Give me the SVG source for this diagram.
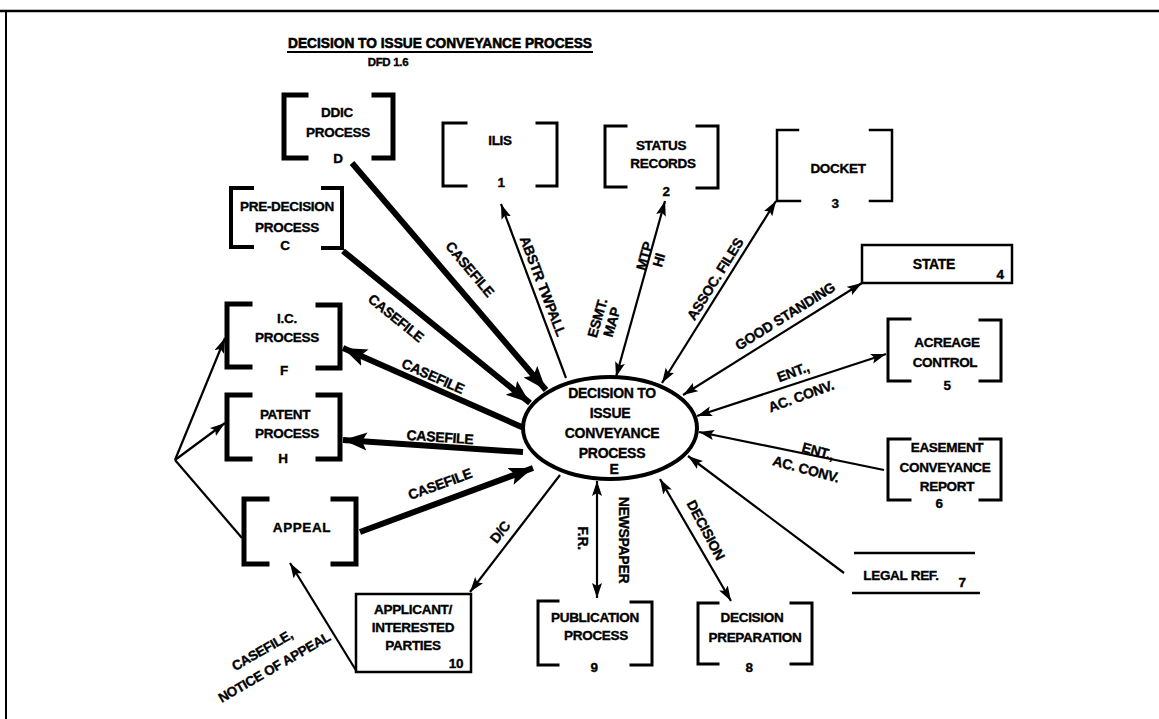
<svg xmlns="http://www.w3.org/2000/svg" width="1159" height="719" viewBox="0 0 1159 719">
  <style>
    .t{font-family:"Liberation Sans",Arial,sans-serif;font-weight:bold;font-size:13.5px;text-anchor:middle;fill:#000;stroke:#000;stroke-width:0.35;letter-spacing:-0.3px}
    .f{font-size:14px}
    .br{fill:none;stroke:#000;stroke-linecap:square}
    .thick{fill:none;stroke:#000;stroke-width:6}
    .thin{fill:none;stroke:#000;stroke-width:2.2}
    .box{fill:#fff;stroke:#000;stroke-width:2.5}
  </style>
  <defs>
    <marker id="big" markerUnits="userSpaceOnUse" markerWidth="26" markerHeight="20" refX="24" refY="9" orient="auto-start-reverse">
      <path d="M0,0 L24,9 L0,18 L5,9 z" fill="#000"/>
    </marker>
    <marker id="sm" markerUnits="userSpaceOnUse" markerWidth="16" markerHeight="12" refX="15" refY="5" orient="auto-start-reverse">
      <path d="M0,0 L15,5 L0,10 L3,5 z" fill="#000"/>
    </marker>
  </defs>
  <rect width="1159" height="719" fill="#fff"/>

  <!-- page frame -->
  <g id="frame">
    <line x1="0" y1="11" x2="1159" y2="11" stroke="#000" stroke-width="2.5"/>
    <line x1="6" y1="11" x2="6" y2="719" stroke="#000" stroke-width="2"/>
  </g>

  <!-- heading -->
  <g id="title">
    <text x="440" y="48" class="t" style="font-size:15px;letter-spacing:0;stroke-width:0.6" textLength="304" lengthAdjust="spacingAndGlyphs">DECISION TO ISSUE CONVEYANCE  PROCESS</text>
    <line x1="287" y1="52" x2="593" y2="52" stroke="#000" stroke-width="2"/>
    <text x="388" y="66" class="t" style="font-size:11.5px">DFD 1.6</text>
  </g>

  <!-- flows -->
  <g id="connectors">
    <line class="thick" x1="352" y1="163" x2="546" y2="390" marker-end="url(#big)"/>
    <line class="thick" x1="343" y1="251" x2="530" y2="403" marker-end="url(#big)"/>
    <line class="thick" x1="524" y1="428" x2="343" y2="348" marker-end="url(#big)"/>
    <line class="thick" x1="523" y1="452" x2="343" y2="440" marker-end="url(#big)"/>
    <line class="thick" x1="360" y1="532" x2="533" y2="468" marker-end="url(#big)"/>
    <line class="thin" x1="566" y1="378" x2="501" y2="204" marker-end="url(#sm)"/>
    <line class="thin" x1="616" y1="377" x2="665" y2="201" marker-start="url(#sm)" marker-end="url(#sm)"/>
    <line class="thin" x1="662" y1="383" x2="776" y2="201" marker-start="url(#sm)" marker-end="url(#sm)"/>
    <line class="thin" x1="683" y1="395" x2="862" y2="283" marker-start="url(#sm)" marker-end="url(#sm)"/>
    <line class="thin" x1="697" y1="416" x2="886" y2="354" marker-start="url(#sm)" marker-end="url(#sm)"/>
    <line class="thin" x1="884" y1="470" x2="699" y2="432" marker-end="url(#sm)"/>
    <line class="thin" x1="844" y1="573" x2="688" y2="456" marker-end="url(#sm)"/>
    <line class="thin" x1="660" y1="479" x2="731" y2="601" marker-start="url(#sm)" marker-end="url(#sm)"/>
    <line class="thin" x1="597" y1="481" x2="597" y2="598" marker-start="url(#sm)" marker-end="url(#sm)"/>
    <line class="thin" x1="560" y1="475" x2="470" y2="592" marker-end="url(#sm)"/>
    <line class="thin" x1="357" y1="672" x2="290" y2="563" marker-end="url(#sm)"/>
    <polyline class="thin" points="242,538 175,460"/>
    <line class="thin" x1="175" y1="460" x2="225" y2="338" marker-end="url(#sm)"/>
    <line class="thin" x1="175" y1="460" x2="225" y2="423" marker-end="url(#sm)"/>

    <!-- flow labels -->
    <text class="t f" y="5" transform="translate(470,269) rotate(50)">CASEFILE</text>
    <text class="t f" y="5" transform="translate(396,318) rotate(39)">CASEFILE</text>
    <text class="t f" y="5" transform="translate(433,376) rotate(24)">CASEFILE</text>
    <text class="t f" y="5" transform="translate(440,437) rotate(4)">CASEFILE</text>
    <text class="t f" y="5" transform="translate(440,484) rotate(-20)">CASEFILE</text>
    <text class="t f" y="5" transform="translate(543,286) rotate(69)">ABSTR TWPALL</text>
    <g transform="translate(651,258) rotate(-74)">
      <text class="t f" x="0" y="-2">MTP</text>
      <text class="t f" x="0" y="13">HI</text>
    </g>
    <g transform="translate(604,320) rotate(-74)">
      <text class="t f" x="0" y="-2">ESMT.</text>
      <text class="t f" x="0" y="13">MAP</text>
    </g>
    <text class="t f" y="5" transform="translate(715,279) rotate(-58)">ASSOC. FILES</text>
    <text class="t f" y="5" transform="translate(785,316) rotate(-32)">GOOD STANDING</text>
    <text class="t f" y="5" transform="translate(793,372) rotate(-20)">ENT.,</text>
    <text class="t f" y="5" transform="translate(801,396) rotate(-20)">AC. CONV.</text>
    <text class="t f" y="5" transform="translate(818,451) rotate(15)">ENT.,</text>
    <text class="t f" y="5" transform="translate(806,469) rotate(15)">AC. CONV.</text>
    <text class="t f" y="5" transform="translate(706,530) rotate(62)">DECISION</text>
    <text class="t f" y="5" transform="translate(583,538) rotate(90)">F.R.</text>
    <text class="t f" y="5" transform="translate(624,540) rotate(90)">NEWSPAPER</text>
    <text class="t f" y="5" transform="translate(500,532) rotate(-52)">D/C</text>
    <text class="t" y="5" transform="translate(262,650) rotate(-30)">CASEFILE,</text>
    <text class="t" y="5" transform="translate(274,667) rotate(-30)">NOTICE OF APPEAL</text>
  </g>

  <!-- central process -->
  <g id="node-E">
    <ellipse cx="610" cy="428" rx="87" ry="51" fill="#fff" stroke="#000" stroke-width="4"/>
    <text class="t f" x="612" y="398">DECISION TO</text>
    <text class="t f" x="610" y="418">ISSUE</text>
    <text class="t f" x="612" y="438">CONVEYANCE</text>
    <text class="t f" x="612" y="458">PROCESS</text>
    <text class="t f" x="614" y="474">E</text>
  </g>

  <g id="node-D">
    <path class="br" stroke-width="5" d="M306,95 H284 V158 H306 M374,95 H393 V158 H374"/>
    <text class="t" x="337" y="117">DDIC</text>
    <text class="t" x="338" y="137">PROCESS</text>
    <text class="t" x="338" y="163">D</text>
  </g>

  <g id="node-C">
    <path class="br" stroke-width="4" d="M252,188 H231 V247 H252 M323,188 H342 V248 H323"/>
    <text class="t" x="287" y="211">PRE-DECISION</text>
    <text class="t" x="287" y="232">PROCESS</text>
    <text class="t" x="285" y="250">C</text>
  </g>

  <g id="node-F">
    <path class="br" stroke-width="5" d="M250,304 H227 V367 H250 M318,305 H340 V368 H318"/>
    <text class="t" x="287" y="323">I.C.</text>
    <text class="t" x="287" y="342">PROCESS</text>
    <text class="t" x="284" y="375">F</text>
  </g>

  <g id="node-H">
    <path class="br" stroke-width="5" d="M250,395 H227 V459 H250 M318,395 H340 V459 H318"/>
    <text class="t" x="285" y="419">PATENT</text>
    <text class="t" x="287" y="438">PROCESS</text>
    <text class="t" x="283" y="463">H</text>
  </g>

  <g id="node-appeal">
    <path class="br" stroke-width="5" d="M267,499 H244 V564 H267 M333,499 H356 V564 H333"/>
    <text class="t" x="302" y="532" style="letter-spacing:0.6px">APPEAL</text>
  </g>

  <g id="node-1">
    <path class="br" stroke-width="3" d="M466,123 H443 V186 H466 M537,123 H557 V186 H537"/>
    <text class="t" x="500" y="145">ILIS</text>
    <text class="t" x="501" y="187">1</text>
  </g>

  <g id="node-2">
    <path class="br" stroke-width="3" d="M626,126 H605 V187 H626 M697,126 H718 V188 H697"/>
    <text class="t" x="661" y="150">STATUS</text>
    <text class="t" x="663" y="168">RECORDS</text>
    <text class="t" x="666" y="196">2</text>
  </g>

  <g id="node-3">
    <path class="br" stroke-width="2.5" d="M798,130 H777 V201 H800 M870,130 H892 V201 H870"/>
    <text class="t" x="838" y="173">DOCKET</text>
    <text class="t" x="835" y="208">3</text>
  </g>

  <g id="node-4">
    <rect class="box" x="862" y="245" width="150" height="38"/>
    <text class="t f" x="934" y="269">STATE</text>
    <text class="t" x="1000" y="279">4</text>
  </g>

  <g id="node-5">
    <path class="br" stroke-width="3" d="M910,319 H888 V381 H910 M980,320 H1001 V381 H980"/>
    <text class="t" x="947" y="347">ACREAGE</text>
    <text class="t" x="945" y="367">CONTROL</text>
    <text class="t" x="947" y="390">5</text>
  </g>

  <g id="node-6">
    <path class="br" stroke-width="3" d="M910,439 H888 V500 H910 M980,439 H1001 V500 H980"/>
    <text class="t" x="947" y="452">EASEMENT</text>
    <text class="t" x="945" y="472">CONVEYANCE</text>
    <text class="t" x="947" y="491">REPORT</text>
    <text class="t" x="939" y="508">6</text>
  </g>

  <g id="node-7">
    <line x1="854" y1="553" x2="975" y2="553" stroke="#000" stroke-width="2.5"/>
    <line x1="852" y1="593" x2="980" y2="593" stroke="#000" stroke-width="2.5"/>
    <text class="t" x="901" y="580">LEGAL REF.</text>
    <text class="t" x="962" y="587">7</text>
  </g>

  <g id="node-8">
    <path class="br" stroke-width="3" d="M718,603 H698 V664 H718 M791,603 H812 V664 H791"/>
    <text class="t" x="752" y="622">DECISION</text>
    <text class="t" x="755" y="642">PREPARATION</text>
    <text class="t" x="749" y="672">8</text>
  </g>

  <g id="node-9">
    <path class="br" stroke-width="3" d="M558,601 H538 V665 H558 M631,602 H652 V665 H631"/>
    <text class="t" x="595" y="622">PUBLICATION</text>
    <text class="t" x="596" y="640">PROCESS</text>
    <text class="t" x="594" y="672">9</text>
  </g>

  <g id="node-10">
    <rect class="box" x="356" y="594" width="115" height="78"/>
    <text class="t" x="413" y="614">APPLICANT/</text>
    <text class="t" x="413" y="632">INTERESTED</text>
    <text class="t" x="413" y="650">PARTIES</text>
    <text class="t" x="456" y="668">10</text>
  </g>
</svg>
